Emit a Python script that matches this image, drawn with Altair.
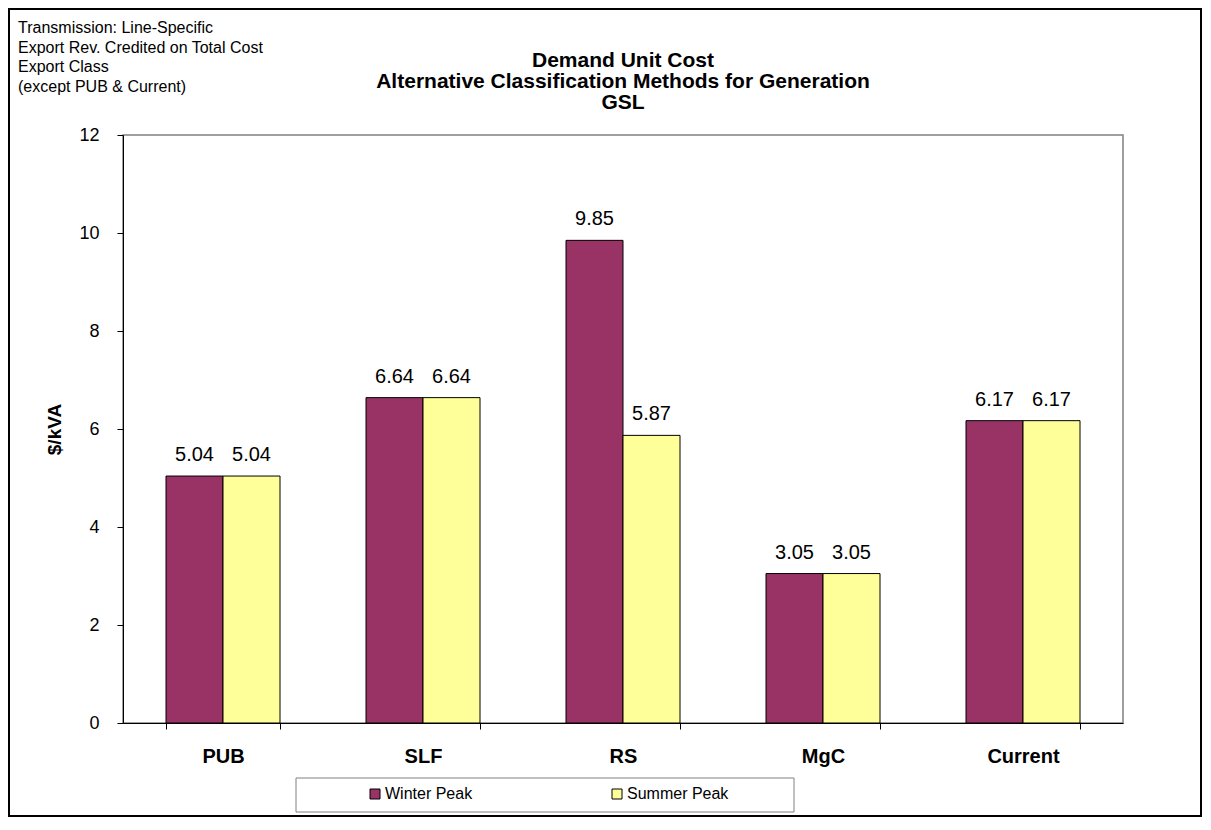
import altair as alt
import pandas as pd

categories = ["PUB", "SLF", "RS", "MgC", "Current"]
winter_peak = [5.04, 6.64, 9.85, 3.05, 6.17]
summer_peak = [5.04, 6.64, 5.87, 3.05, 6.17]
series = ["Winter Peak", "Summer Peak"]
series_colors = ["#993366", "#FFFF99"]
y_ticks = [0, 2, 4, 6, 8, 10, 12]
title_lines = ["Demand Unit Cost", "Alternative Classification Methods for Generation", "GSL"]
notes = ["Transmission: Line-Specific", "Export Rev. Credited on Total Cost",
         "Export Class", "(except PUB & Current)"]

FONT = "Liberation Sans"

rows = []
for c, w, s in zip(categories, winter_peak, summer_peak):
    rows.append({"category": c, "series": series[0], "value": w})
    rows.append({"category": c, "series": series[1], "value": s})
df = pd.DataFrame(rows)

x_enc = alt.X("category:N", sort=categories,
              scale=alt.Scale(paddingInner=0.43, paddingOuter=0.215),
              axis=alt.Axis(title=None, labelAngle=0, labelFontSize=20, labelFontWeight="bold",
                            labelFont=FONT, labelColor="black", labelPadding=17,
                            tickBand="extent", tickSize=6, tickColor="black",
                            domainColor="black", labelBaseline="top"))
y_enc = alt.Y("value:Q", scale=alt.Scale(domain=[0, 12], nice=False),
              axis=alt.Axis(values=y_ticks, title="$/kVA", grid=False, tickSize=6,
                            tickColor="black", domainColor="black", labelFontSize=18,
                            labelFont=FONT, labelColor="black", labelPadding=18,
                            titleFont=FONT, titleFontSize=19, titleFontWeight="bold",
                            titleColor="black", titleAngle=-90, titleX=-69, titleY=294,
                            titleAlign="center", titleBaseline="middle"))
xoff = alt.XOffset("series:N", sort=series, scale=alt.Scale(domain=series, paddingInner=0, paddingOuter=0))

bars = alt.Chart(df).mark_bar(stroke="black", strokeWidth=1).encode(
    x=x_enc, y=y_enc, xOffset=xoff,
    color=alt.Color("series:N", sort=series,
                    scale=alt.Scale(domain=series, range=series_colors),
                    legend=alt.Legend(title=None, orient="none", legendX=244, legendY=651,
                                      padding=0, direction="horizontal", columnPadding=136,
                                      symbolType="square", symbolSize=100,
                                      symbolStrokeColor="black", symbolStrokeWidth=1,
                                      symbolOpacity=1, labelFontSize=16, labelFont=FONT,
                                      labelColor="black", labelOffset=2)),
)

labels = alt.Chart(df).mark_text(fontSize=20, font=FONT, color="black", dy=-15,
                                 baseline="alphabetic").encode(
    x=alt.X("category:N", sort=categories), y="value:Q", xOffset=xoff,
    text=alt.Text("value:Q", format=".2f"),
)

deco = pd.DataFrame({"a": [0]})
legend_box = alt.Chart(deco).mark_rect(fill="white", stroke="#808080", strokeWidth=1).encode(
    x=alt.value(173), x2=alt.value(671), y=alt.value(643), y2=alt.value(677))
outer = alt.Chart(deco).mark_rect(fillOpacity=0, stroke="black", strokeWidth=2).encode(
    x=alt.value(-114), x2=alt.value(1078), y=alt.value(-126), y2=alt.value(681))
notes_df = pd.DataFrame({"t": ["\n".join(notes)]})
note_text = alt.Chart(notes_df).mark_text(align="left", baseline="top", fontSize=16, font=FONT,
                                          color="black", lineBreak="\n", lineHeight=19.5).encode(
    text="t:N", x=alt.value(-105), y=alt.value(-115))
title_df = pd.DataFrame({"t": ["\n".join(title_lines)]})
title_text = alt.Chart(title_df).mark_text(align="center", baseline="top", fontSize=21,
                                           fontWeight="bold", font=FONT, color="black",
                                           lineBreak="\n", lineHeight=21).encode(
    text="t:N", x=alt.value(500), y=alt.value(-85))

chart = alt.layer(outer, legend_box, bars, labels, note_text, title_text).properties(
    width=1000, height=588, padding=0,
).configure_view(stroke="#808080", strokeWidth=1.5)

chart.save("out.html", embed_options={"renderer": "svg", "actions": False})
